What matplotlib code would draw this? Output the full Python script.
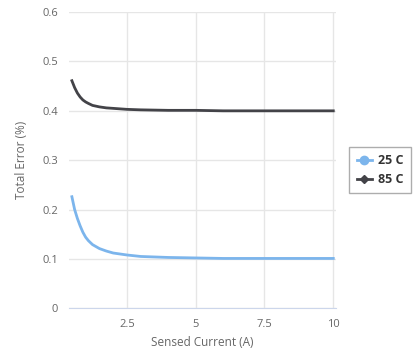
import matplotlib.pyplot as plt
from matplotlib.lines import Line2D

plt.rc('font', family='Open Sans', size=8)

current = [0.5, 0.6, 0.7, 0.8, 0.9, 1.0, 1.1, 1.25, 1.5, 1.75, 2.0, 2.5, 3.0, 4.0, 5.0, 6.0, 7.0, 8.0, 9.0, 10.0]
err_25c = [0.226, 0.200, 0.182, 0.167, 0.154, 0.144, 0.137, 0.129, 0.121, 0.116, 0.112, 0.108, 0.105, 0.103, 0.102,
           0.101, 0.101, 0.101, 0.101, 0.101]
err_85c = [0.461, 0.447, 0.436, 0.428, 0.422, 0.418, 0.415, 0.411, 0.408, 0.406, 0.405, 0.403, 0.402, 0.401, 0.401,
           0.400, 0.400, 0.400, 0.400, 0.400]

xticks = [2.5, 5, 7.5, 10]
xticklabels = ['2.5', '5', '7.5', '10']
yticks = [0, 0.1, 0.2, 0.3, 0.4, 0.5, 0.6]
yticklabels = ['0', '0.1', '0.2', '0.3', '0.4', '0.5', '0.6']

c25 = '#7cb5ec'
c85 = '#434348'
grey = '#666666'

fig = plt.figure(figsize=(4.19, 3.56), dpi=100)
ax = fig.add_axes([0.165, 0.134, 0.637, 0.832])

ax.plot(current, err_25c, color=c25, lw=2, solid_joinstyle='round')
ax.plot(current, err_85c, color=c85, lw=2, solid_joinstyle='round')

ax.set_xlim(0.4, 10.1)
ax.set_ylim(0, 0.6)
ax.set_xticks(xticks)
ax.set_xticklabels(xticklabels)
ax.set_yticks(yticks)
ax.set_yticklabels(yticklabels)
ax.grid(True, color='#e6e6e6', lw=1)
ax.set_axisbelow(True)
for s in ['top', 'right', 'left']:
    ax.spines[s].set_visible(False)
ax.spines['bottom'].set_color('#ccd6eb')
ax.tick_params(length=0, colors=grey, labelsize=8, pad=8)
ax.set_xlabel('Sensed Current (A)', color=grey, fontsize=8.5, labelpad=4)
ax.set_ylabel('Total Error (%)', color=grey, fontsize=8.5, labelpad=10)

handles = [Line2D([0], [0], color=c25, lw=2, marker='o', ms=6),
           Line2D([0], [0], color=c85, lw=2, marker='D', ms=4.5)]
leg = fig.legend(handles, ['25 C', '85 C'], loc='center left',
                 bbox_to_anchor=(0.828, 0.522), frameon=True, fancybox=False,
                 edgecolor='#999999', handlelength=1.2, handletextpad=0.5,
                 borderpad=0.6, borderaxespad=0.2, labelspacing=0.45,
                 prop={'weight': 'bold', 'size': 9})
leg.get_frame().set_linewidth(1)
for t in leg.get_texts():
    t.set_color('#333333')

fig.savefig('out.png', dpi=100)
